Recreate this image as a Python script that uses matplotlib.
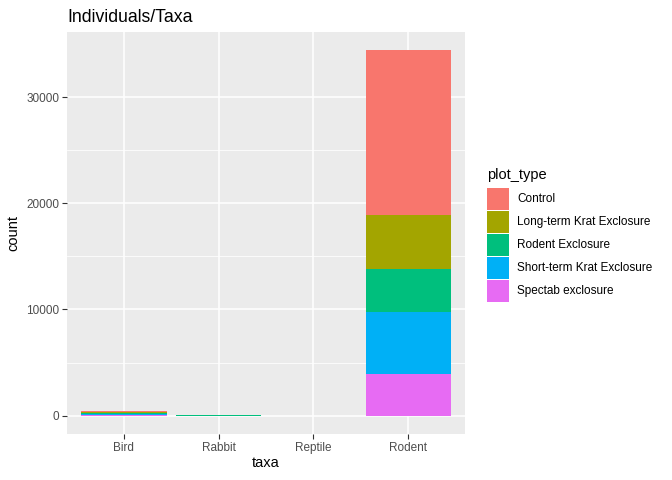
"""Stacked bar chart of individuals per taxa, split by plot type."""

import matplotlib.pyplot as plt
import numpy as np
from matplotlib.patches import Rectangle

plt.rcParams['font.family'] = ['Liberation Sans', 'DejaVu Sans']

taxa = ['Bird', 'Rabbit', 'Reptile', 'Rodent']
plot_types = ['Control', 'Long-term Krat Exclosure', 'Rodent Exclosure',
              'Short-term Krat Exclosure', 'Spectab exclosure']
colors = ['#F8766D', '#A3A500', '#00BF7D', '#00B0F6', '#E76BF3']

# counts per plot type, one value per taxa
control = [110, 0, 5, 15530]
long_term_krat = [90, 0, 3, 5060]
rodent_excl = [90, 75, 2, 4060]
short_term_krat = [100, 0, 2, 5810]
spectab = [70, 0, 2, 3940]
counts = [control, long_term_krat, rodent_excl, short_term_krat, spectab]

DPI = 100
W, H = 672, 480
fig = plt.figure(figsize=(W / DPI, H / DPI), dpi=DPI)
ax = fig.add_axes([67 / W, (H - 434) / H, 398 / W, 402 / H])
ax.set_facecolor('#EBEBEB')

x = np.arange(1, len(taxa) + 1)
data = np.array(counts, dtype=float)
# ggplot stacks the first level on top
bottom = np.zeros(len(taxa))
for i in range(len(plot_types) - 1, -1, -1):
    ax.bar(x, data[i], width=0.9, bottom=bottom, color=colors[i],
           linewidth=0, zorder=3, antialiased=False)
    bottom += data[i]

total = data.sum(axis=0).max()
pad = total * 0.05
ax.set_xlim(0.4, 4.6)
ax.set_ylim(-pad, total + pad)

ax.set_xticks(x)
ax.set_xticklabels(taxa)
ax.set_yticks([0, 10000, 20000, 30000])
ax.set_yticks([5000, 15000, 25000], minor=True)
ax.grid(which='major', color='white', linewidth=1.1, zorder=1)
ax.grid(which='minor', axis='y', color='white', linewidth=0.55, zorder=1)
ax.set_axisbelow(True)
for s in ax.spines.values():
    s.set_visible(False)
ax.tick_params(which='major', length=3.5, color='#333333', width=0.8,
               labelsize=8.45, labelcolor='#4D4D4D', pad=2)
ax.tick_params(which='minor', length=0)
ax.tick_params(axis='x', which='minor', bottom=False)

ax.set_xlabel('taxa', fontsize=10.56, labelpad=2)
ax.set_ylabel('count', fontsize=10.56, labelpad=4)
ax.set_title('Individuals/Taxa', fontsize=12.7, loc='left', pad=7)

# legend drawn by hand, ggplot style (pixel layout from the reference)
fig.text(487 / W, 1 - 175 / H, 'plot_type', fontsize=10.56,
         ha='left', va='center')
key_top, key_step, key_h, key_w = 188, 23.1, 21.5, 22
for i, (lab, c) in enumerate(zip(plot_types, colors)):
    top = key_top + i * key_step
    fig.patches.append(Rectangle((487 / W, 1 - (top + key_h) / H),
                                 key_w / W, key_h / H, facecolor=c,
                                 edgecolor='none', transform=fig.transFigure))
    fig.text(517 / W, 1 - (top + key_h / 2) / H, lab, fontsize=8.45,
             ha='left', va='center')

plt.savefig('out.png', dpi=DPI)
